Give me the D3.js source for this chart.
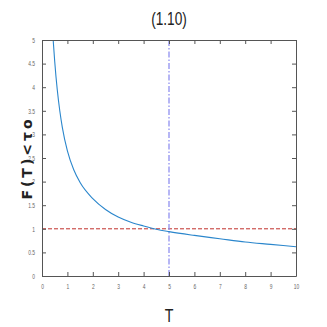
<!DOCTYPE html>
<html><head><meta charset="utf-8">
<script src="https://cdn.jsdelivr.net/npm/d3@7"></script>
<style>body{margin:0;background:#fff}svg{display:block}</style>
</head><body>
<script>
const title = "(1.10)";
const xLabel = "T";
const yLabel = "F(T)<τo";
const tValues = [0.44, 0.5, 0.6, 0.7, 0.8, 1.0, 1.25, 1.5, 2.0, 2.5, 3.0, 3.5, 4.0, 4.5, 5.0, 6.0, 7.0, 8.0, 9.0, 10.0];
const fValues = [5.0, 4.55, 3.95, 3.5, 3.15, 2.65, 2.25, 1.98, 1.64, 1.41, 1.25, 1.14, 1.06, 0.99, 0.94, 0.86, 0.79, 0.72, 0.67, 0.62];
const xTicks = [0,1,2,3,4,5,6,7,8,9,10];
const yTicks = [0,0.5,1,1.5,2,2.5,3,3.5,4,4.5,5];
const thresholdF = [1];
const markerT = [5];

const W = 327, H = 327;
const m = {left:42, right:31, top:40, bottom:51};
const svg = d3.select("body").append("svg").attr("width", W).attr("height", H);
const x = d3.scaleLinear().domain([0,10]).range([m.left, W - m.right]);
const y = d3.scaleLinear().domain([0,5]).range([H - m.bottom, m.top]);
const axisColor = "#555";
const font = "'Liberation Sans',Arial,sans-serif";

// reference lines
svg.append("line").attr("x1", x(0)).attr("x2", x(10)).attr("y1", y(thresholdF[0])).attr("y2", y(thresholdF[0]))
  .attr("stroke", "#c0302c").attr("stroke-width", 1).attr("stroke-dasharray", "4,2");
svg.append("line").attr("x1", x(markerT[0])).attr("x2", x(markerT[0])).attr("y1", y(0)).attr("y2", y(5))
  .attr("stroke", "#9090f0").attr("stroke-width", 1.3).attr("stroke-dasharray", "6,2,1.5,2");

// curve
const data = tValues.map((t,i)=>[t, fValues[i]]);
svg.append("path").datum(data)
  .attr("d", d3.line().x(d=>x(d[0])).y(d=>y(d[1])).curve(d3.curveMonotoneX))
  .attr("fill","none").attr("stroke","#2a86cc").attr("stroke-width",1.1);

// axes
const tick = 4;
const gxb = svg.append("g").attr("transform",`translate(0,${y(0)})`)
  .call(d3.axisBottom(x).tickValues(xTicks).tickSizeInner(-tick).tickSizeOuter(0).tickPadding(8).tickFormat(d3.format("d")));
const gxt = svg.append("g").attr("transform",`translate(0,${y(5)})`)
  .call(d3.axisTop(x).tickValues(xTicks).tickSizeInner(-tick).tickSizeOuter(0).tickFormat(""));
const gyl = svg.append("g").attr("transform",`translate(${x(0)},0)`)
  .call(d3.axisLeft(y).tickValues(yTicks).tickSizeInner(-tick).tickSizeOuter(0).tickPadding(3).tickFormat(d=>String(d)));
const gyr = svg.append("g").attr("transform",`translate(${x(10)},0)`)
  .call(d3.axisRight(y).tickValues(yTicks).tickSizeInner(-tick).tickSizeOuter(0).tickFormat(""));
[gxb,gxt,gyl,gyr].forEach(g=>{
  g.selectAll("path.domain").attr("stroke",axisColor);
  g.selectAll(".tick line").attr("stroke",axisColor);
  g.selectAll(".tick text").attr("fill","#666").attr("font-size",7).attr("font-family",font);
});
// narrow the tick labels like the reference
gxb.selectAll(".tick text").each(function(){
  const t = d3.select(this); const yy = +t.attr("y");
  t.attr("transform", `translate(0,${yy}) scale(0.7,1) translate(0,${-yy})`);
});
gyl.selectAll(".tick text").attr("transform","scale(0.7,1)").attr("x", -7/0.7);

// title
svg.append("text").attr("transform","translate(169,25) scale(0.72,1)").attr("text-anchor","middle")
  .attr("font-family", font).attr("font-size", 19).attr("fill","#222").text(title);
// x label
svg.append("text").attr("transform","translate(169,322) scale(0.75,1)").attr("text-anchor","middle")
  .attr("font-family", font).attr("font-size", 19).attr("fill","#222").text(xLabel);
// y label
svg.append("text").attr("transform","translate(32,158) rotate(-90)").attr("text-anchor","middle")
  .attr("font-family","'DejaVu Sans',sans-serif").attr("font-weight","bold").attr("font-size",14)
  .attr("letter-spacing", 3).attr("fill","#222").text(yLabel);
</script>
</body></html>
